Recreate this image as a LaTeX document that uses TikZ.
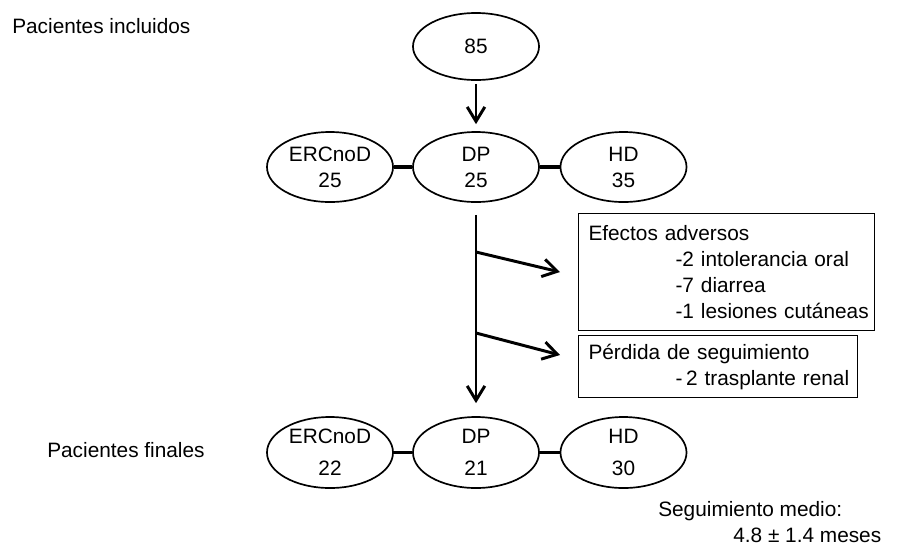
\documentclass[tikz,border=0pt]{standalone}
\usepackage{fontspec}
\setmainfont{Liberation Sans}
\usetikzlibrary{shapes.geometric,arrows.meta}
\tikzset{
	grupo/.style={draw, ellipse, line width=1.2pt, minimum width=3.15cm, minimum height=1.75cm, inner sep=0pt, align=center},
	caja/.style={draw, line width=0.7pt, anchor=north west, align=left, inner xsep=0.125cm, inner ysep=0pt},
	flecha/.style={line width=2.1pt, -{Straight Barb[length=0.36cm,width=0.44cm]}},
	enlace/.style={line width=2.4pt},
	etiqueta/.style={anchor=base west, inner sep=0pt, align=left}
}

\begin{document}
\begin{tikzpicture}[x=0.025cm, y=-0.025cm, font=\fontsize{14.8}{18.5}\selectfont]
				%%%%% START %%%%%
				\def\xmid{476}
				\def\xizq{330}
				\def\xder{623.5}
				\def\yini{46.5}
				\def\ygru{167}
				\def\yfin{452.5}
				\def\margen{\hspace*{0.125cm}}
				\def\sangria{\hspace*{2.3cm}}
				
				\useasboundingbox (0,0) rectangle (900,549);
				
				\node[etiqueta] (incl) at (12,33) {Pacientes incluidos};
				\node[etiqueta] (fin) at (47,457) {Pacientes finales};
				
				\node[grupo, minimum height=1.675cm] (total) at (\xmid,\yini) {85};
				
				\node[grupo] (erc1) at (\xizq,\ygru) {ERCnoD\\25};
				\node[grupo] (dp1) at (\xmid,\ygru) {DP\\25};
				\node[grupo] (hd1) at (\xder,\ygru) {HD\\35};
				
				\node[grupo, minimum height=1.775cm] (erc2) at (\xizq,\yfin) {ERCnoD\\[0.14cm]22};
				\node[grupo, minimum height=1.775cm] (dp2) at (\xmid,\yfin) {DP\\[0.14cm]21};
				\node[grupo, minimum height=1.775cm] (hd2) at (\xder,\yfin) {HD\\[0.14cm]30};
				
				\draw[enlace] (erc1) -- (dp1);
				\draw[enlace] (dp1) -- (hd1);
				\draw[enlace] (erc2) -- (dp2);
				\draw[enlace] (dp2) -- (hd2);
				
				\draw[flecha, shorten <=0.075cm, shorten >=0.175cm] (total) -- (dp1);
				\draw[flecha, shorten <=0.3cm, shorten >=0.325cm] (dp1) -- (dp2);
				
				\node[caja, minimum height=2.925cm, text width=7.15cm] (efectos) at (578,213)
					{\margen Efectos adversos\\\sangria-2 intolerancia oral\\\sangria-7 diarrea\\\sangria-1 lesiones cutáneas};
				\node[caja, minimum height=1.55cm, text width=6.725cm] (perdida) at (578,335)
					{\margen Pérdida de seguimiento\\\sangria\mbox{-\hspace{0.09cm}2 trasplante renal}};
				
				\coordinate (r1) at (\xmid,252);
				\coordinate (p1) at (560,272);
				\coordinate (r2) at (\xmid,333);
				\coordinate (p2) at (560,355);
				\draw[flecha] (r1) -- (p1);
				\draw[flecha] (r2) -- (p2);
				
				\node[etiqueta] (medio) at (658,542) {Seguimiento medio:\\\hspace*{1.875cm}4.8 ± 1.4 meses};
				%%%%% END %%%%%
\end{tikzpicture}
\end{document}
